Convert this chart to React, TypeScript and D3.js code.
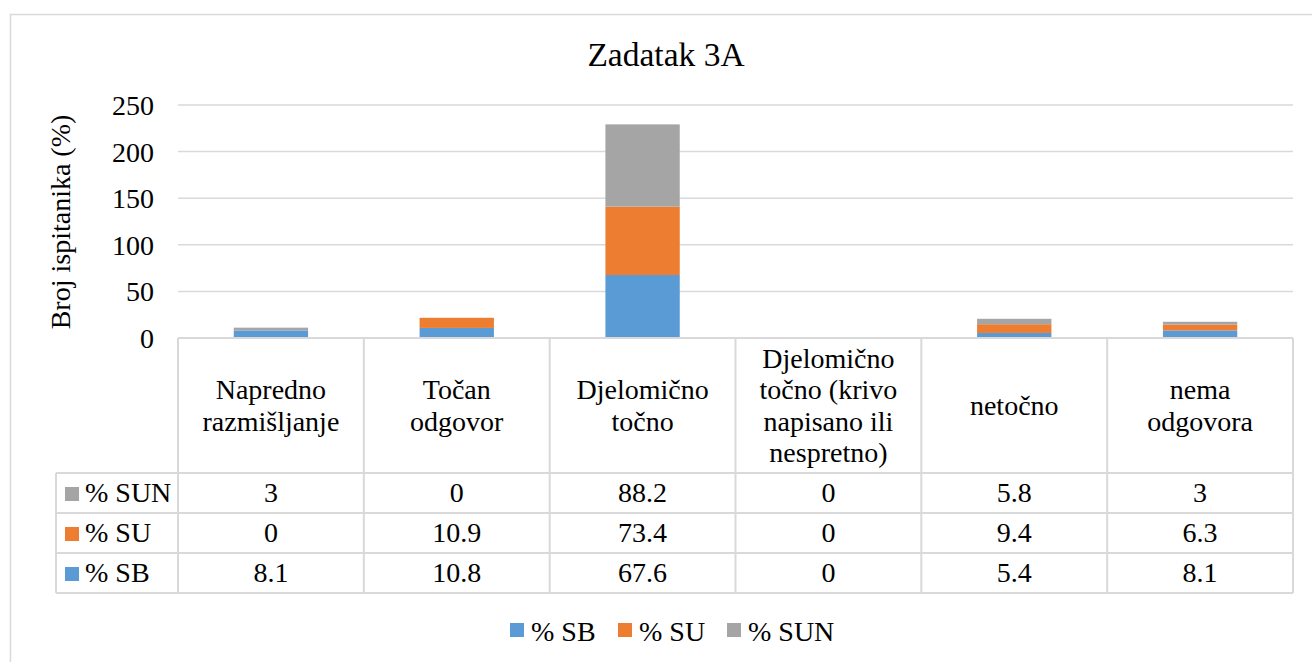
import React from "react";
import * as d3 from "d3";

const categories: string[][] = [
  ["Napredno", "razmišljanje"],
  ["Točan", "odgovor"],
  ["Djelomično", "točno"],
  ["Djelomično", "točno (krivo", "napisano ili", "nespretno)"],
  ["netočno"],
  ["nema", "odgovora"],
];
const seriesNames = ["% SB", "% SU", "% SUN"];
const SB = [8.1, 10.8, 67.6, 0, 5.4, 8.1];
const SU = [0, 10.9, 73.4, 0, 9.4, 6.3];
const SUN = [3, 0, 88.2, 0, 5.8, 3];
const yTicks = [0, 50, 100, 150, 200, 250];
const colors = ["#5B9BD5", "#ED7D31", "#A5A5A5"];

const FONT = '"Times New Roman", Tinos, "Liberation Serif"';
const TS = { fontFamily: FONT };

export default function App() {
  const values = [SB, SU, SUN];
  const idx = d3.range(categories.length);
  const x = d3.scaleBand<number>().domain(idx).range([178, 1293]).padding(0);
  const y = d3.scaleLinear().domain([0, 250]).range([338, 105]);
  const bw = x.bandwidth() * 0.4;

  const rows = idx.map((i) => ({ SB: SB[i], SU: SU[i], SUN: SUN[i], i }));
  const stack = d3.stack<any>().keys(["SB", "SU", "SUN"])(rows);

  const headerTop = 338;
  const headerBottom = 473;
  const rowH = 40;
  const tableRows = [2, 1, 0];
  const tableLeft = 56;
  const tableRight = 1293;
  const grid = "#D9D9D9";
  const fs = 28;

  const legendItems = [
    { name: seriesNames[0], c: colors[0], x: 510 },
    { name: seriesNames[1], c: colors[1], x: 618 },
    { name: seriesNames[2], c: colors[2], x: 727 },
  ];

  return (
    <svg width={1312} height={662} style={{ position: "absolute", left: 0, top: 0, background: "#fff" }}>
      <rect x={0} y={0} width={1312} height={662} fill="#fff" />
      <rect x={10.5} y={14.5} width={1400} height={700} fill="none" stroke={grid} strokeWidth={1.5} />
      <text x={666} y={66} textAnchor="middle" fontSize={33.5} fill="#000" style={TS}>
        Zadatak 3A
      </text>
      <text transform={`translate(70,222) rotate(-90)`} textAnchor="middle" fontSize={fs} fill="#000" style={TS}>
        Broj ispitanika (%)
      </text>
      {yTicks.map((t) => (
        <g key={t}>
          <line x1={178} x2={1293} y1={y(t)} y2={y(t)} stroke={grid} strokeWidth={1.5} />
          <text x={154} y={y(t) + 10} textAnchor="end" fontSize={fs} fill="#000" style={TS}>
            {t}
          </text>
        </g>
      ))}
      {stack.map((s, si) => (
        <g key={si} fill={colors[si]}>
          {s.map((d, i) => {
            const h = y(d[0]) - y(d[1]);
            if (h <= 0) return null;
            return <rect key={i} x={(x(i) as number) + (x.bandwidth() - bw) / 2} y={y(d[1])} width={bw} height={h} />;
          })}
        </g>
      ))}
      {idx.map((i) => {
        const lines = categories[i];
        const cy = (headerTop + headerBottom) / 2;
        const lh = 31.5;
        return (
          <text key={i} textAnchor="middle" fontSize={fs} fill="#000" style={TS}>
            {lines.map((l, li) => (
              <tspan key={li} x={(x(i) as number) + x.bandwidth() / 2} y={cy + 9.5 + (li - (lines.length - 1) / 2) * lh}>
                {l}
              </tspan>
            ))}
          </text>
        );
      })}
      {tableRows.map((si, r) => {
        const top = headerBottom + r * rowH;
        return (
          <g key={si}>
            <rect x={65} y={top + 14} width={14} height={14} fill={colors[si]} />
            <text x={85} y={top + 29} fontSize={fs} fill="#000" style={TS}>
              {seriesNames[si]}
            </text>
            {idx.map((i) => (
              <text key={i} x={(x(i) as number) + x.bandwidth() / 2} y={top + 29} textAnchor="middle" fontSize={fs} fill="#000" style={TS}>
                {values[si][i]}
              </text>
            ))}
          </g>
        );
      })}
      {[0, 1, 2, 3].map((r) => (
        <line key={r} x1={tableLeft} x2={tableRight} y1={headerBottom + r * rowH} y2={headerBottom + r * rowH} stroke={grid} strokeWidth={2} />
      ))}
      <line x1={178} x2={tableRight} y1={headerTop} y2={headerTop} stroke={grid} strokeWidth={2} />
      <line x1={tableLeft} x2={tableLeft} y1={headerBottom} y2={headerBottom + 3 * rowH} stroke={grid} strokeWidth={2} />
      {d3.range(categories.length + 1).map((k) => {
        const xx = 178 + k * x.bandwidth();
        return <line key={k} x1={xx} x2={xx} y1={headerTop} y2={headerBottom + 3 * rowH} stroke={grid} strokeWidth={2} />;
      })}
      {legendItems.map((it) => (
        <g key={it.name}>
          <rect x={it.x} y={623} width={14} height={14} fill={it.c} />
          <text x={it.x + 21} y={641} fontSize={fs} fill="#000" style={TS}>
            {it.name}
          </text>
        </g>
      ))}
    </svg>
  );
}
